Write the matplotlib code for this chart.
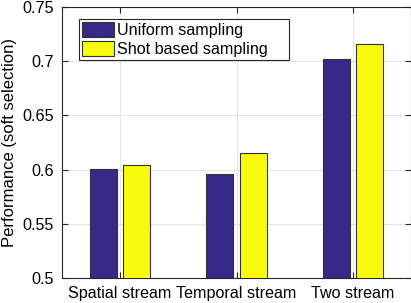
import numpy as np
import matplotlib.pyplot as plt
from matplotlib.patches import Rectangle

plt.rcParams['font.family'] = ['Liberation Sans', 'DejaVu Sans']

categories = ["Spatial stream", "Temporal stream", "Two stream"]
uniform = [0.601, 0.596, 0.702]
shot_based = [0.604, 0.615, 0.716]
yticks = [0.5, 0.55, 0.6, 0.65, 0.7, 0.75]
ytick_labels = ["0.5", "0.55", "0.6", "0.65", "0.7", "0.75"]

fig = plt.figure(figsize=(4.11, 3.03), dpi=100)
ax = fig.add_axes([62 / 411, 25 / 303, 349 / 411, 271 / 303])

x = np.arange(1, len(categories) + 1)
w = 0.23
edge = "#333333"
ax.bar(x - 0.143, uniform, w, color="#352a87", edgecolor=edge, linewidth=0.8,
       label="Uniform sampling", zorder=3)
ax.bar(x + 0.143, shot_based, w, color="#f9fb0e", edgecolor=edge, linewidth=0.8,
       label="Shot based sampling", zorder=3)

ax.set_xlim(0.5, 3.5)
ax.set_ylim(0.5, 0.75)
ax.set_xticks(x)
ax.set_xticklabels(categories)
ax.set_yticks(yticks)
ax.set_yticklabels(ytick_labels)
ax.set_ylabel("Performance (soft selection)", fontsize=12, labelpad=4)
ax.tick_params(direction="in", labelsize=11.6, color="#262626", length=4,
               top=True, right=True, pad=6)
ax.grid(True, color="#e6e6e6", linewidth=0.8, zorder=0)
for s in ax.spines.values():
    s.set_color("#262626")
    s.set_linewidth(0.8)

leg = ax.legend(loc="upper left", bbox_to_anchor=(0.048, 0.955), fontsize=11.6,
                frameon=False, handlelength=2.0, handleheight=1.0,
                handletextpad=0.2, borderpad=0.2, labelspacing=0.2,
                borderaxespad=0)
leg.set_zorder(6)

# MATLAB legends leave extra room on the right, so draw the box by hand
fig.canvas.draw()
bb = leg.get_window_extent().transformed(fig.transFigure.inverted())
box = Rectangle((bb.x0, bb.y0), bb.width + 18 / 411, bb.height,
                transform=fig.transFigure, facecolor="white",
                edgecolor="#262626", linewidth=0.8, zorder=5)
ax.add_artist(box)
box.set_clip_on(False)

fig.savefig("out.png", dpi=100)
